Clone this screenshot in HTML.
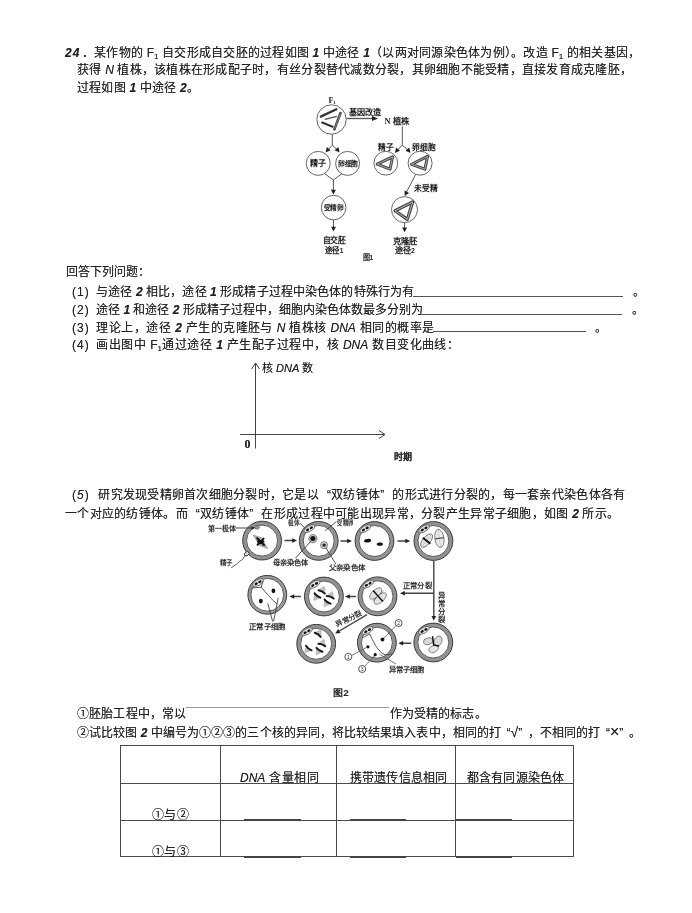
<!DOCTYPE html>
<html lang="zh-CN">
<head>
<meta charset="utf-8">
<title>24</title>
<style>
html,body{margin:0;padding:0;background:#fff;}
body{width:692px;height:913px;position:relative;overflow:hidden;font-family:"Liberation Sans",sans-serif;color:#222;}
.l,.s{filter:blur(0.3px);}
.l{position:absolute;white-space:nowrap;font-size:12px;line-height:16px;height:16px;font-weight:500;text-shadow:0 0 0.6px rgba(0,0,0,.55);text-align:justify;text-align-last:justify;letter-spacing:0;}
.l i{font-style:italic;}
.l b{font-weight:700;font-style:italic;}
.l .ql{display:inline-block;width:1em;text-align:right;text-align-last:right;}
.l .qr{display:inline-block;width:1em;text-align:left;text-align-last:left;}
.l .n{display:inline-block;width:24px;text-align:left;text-align-last:left;letter-spacing:1px;}
.l sub{font-size:8px;vertical-align:-2px;line-height:0;}
.u{position:absolute;height:0;border-top:1px solid #555;}
.s{position:absolute;white-space:nowrap;font-size:12px;line-height:16px;font-weight:500;text-shadow:0 0 0.6px rgba(0,0,0,.55);}
svg{position:absolute;left:0;top:0;}
</style>
</head>
<body>
<!-- paragraph 1 -->
<div class="l" style="left:65px;top:44.5px;width:575px"><i style="letter-spacing:1px;font-weight:700">24</i><span style="display:inline-block;width:13.5px;text-align:left;text-align-last:left;padding-left:3px;box-sizing:border-box;font-weight:700">.</span>某作物的 F<sub>1</sub> 自交形成自交胚的过程如图 <b>1</b> 中途径 <b>1</b>（以两对同源染色体为例）。改造 F<sub>1</sub> 的相关基因，</div>
<div class="l" style="left:77px;top:62px;width:555px">获得 <i>N</i> 植株，该植株在形成配子时，有丝分裂替代减数分裂，其卵细胞不能受精，直接发育成克隆胚，</div>
<div class="l" style="left:77px;top:80px;width:122px">过程如图 <b>1</b> 中途径 <b>2</b>。</div>

<!-- questions -->
<div class="l" style="left:65.5px;top:264px;width:77px">回答下列问题：</div>
<div class="l" style="left:72px;top:284px;width:342px"><span class="n">(1)</span>与途径 <b>2</b> 相比，途径 <b>1</b> 形成精子过程中染色体的特殊行为有</div>
<div class="l" style="left:72px;top:302px;width:351px"><span class="n">(2)</span>途径 <b>1</b> 和途径 <b>2</b> 形成精子过程中，细胞内染色体数最多分别为</div>
<div class="l" style="left:72px;top:319.5px;width:362px"><span class="n">(3)</span>理论上，途径 <b>2</b> 产生的克隆胚与 <i>N</i> 植株核 <i>DNA</i> 相同的概率是</div>
<div class="l" style="left:72px;top:336.5px;width:387px"><span class="n">(4)</span>画出图中 F<sub>1</sub>通过途径 <b>1</b> 产生配子过程中，核 <i>DNA</i> 数目变化曲线：</div>
<div class="u" style="left:413px;top:296px;width:210px"></div>
<div class="u" style="left:421px;top:314px;width:201px"></div>
<div class="u" style="left:433px;top:331px;width:153px"></div>
<div class="s" style="left:633px;top:284px">。</div>
<div class="s" style="left:632px;top:302px">。</div>
<div class="s" style="left:595px;top:319.5px">。</div>

<!-- axes -->
<svg width="692" height="913" viewBox="0 0 692 913" style="pointer-events:none">
<g fill="none" stroke="#444" stroke-width="1">
<path d="M255.5 363.5V448.5M240 434.5H384.5"/>
<path d="M251.5 369l4-6 4 6M379 430.5l6 4-6 4"/>
</g>
</svg>
<div class="s" style="left:262px;top:360px;font-size:11px">核 <i>DNA</i> 数</div>
<div class="s" style="left:244.5px;top:435.5px;font-family:'Liberation Serif',serif;font-weight:700;font-size:12px">0</div>
<div class="s" style="left:393.5px;top:448.5px;font-size:9px;font-weight:700">时期</div>

<!-- paragraph 5 -->
<div class="l" style="left:72px;top:487px;width:553px"><span class="n" style="width:26px">(<i>5</i>)</span>研究发现受精卵首次细胞分裂时，它是以<span class="ql">“</span>双纺锤体<span class="qr">”</span>的形式进行分裂的，每一套亲代染色体各有</div>
<div class="l" style="left:65px;top:505.5px;width:554px">一个对应的纺锤体。而<span class="ql">“</span>双纺锤体<span class="qr">”</span>在形成过程中可能出现异常，分裂产生异常子细胞，如图 <b>2</b> 所示。</div>

<!-- bottom text -->
<div class="l" style="left:77px;top:705.5px;width:109px">①胚胎工程中，常以</div>
<div class="u" style="left:186px;top:707px;width:203px;border-top-color:#999"></div>
<div class="l" style="left:389.5px;top:705.5px;width:97px">作为受精的标志。</div>
<div class="l" style="left:77px;top:724.5px;width:564px">②试比较图 <b>2</b> 中编号为①②③的三个核的异同，将比较结果填入表中，相同的打<span class="ql" style="width:.8em">“</span><span style="font-size:14px;line-height:0">√</span><span class="qr" style="width:.8em">”</span>，不相同的打<span class="ql" style="width:.8em">“</span><span style="font-size:16px;line-height:0">×</span><span class="qr" style="width:.8em">”</span>。</div>

<!-- table -->
<div id="tb" style="position:absolute;left:120px;top:745px;width:454px;height:112px;border:1px solid #4a4a4a;box-sizing:border-box"></div>
<div style="position:absolute;left:220px;top:745px;width:1px;height:112px;background:#4a4a4a"></div>
<div style="position:absolute;left:336px;top:745px;width:1px;height:112px;background:#4a4a4a"></div>
<div style="position:absolute;left:455px;top:745px;width:1px;height:112px;background:#4a4a4a"></div>
<div style="position:absolute;left:120px;top:782.5px;width:454px;height:1px;background:#4a4a4a"></div>
<div style="position:absolute;left:120px;top:819.5px;width:454px;height:1px;background:#4a4a4a"></div>
<div class="l" style="left:240px;top:769.5px;width:79px"><i>DNA</i> 含量相同</div>
<div class="l" style="left:350px;top:769.5px;width:97px">携带遗传信息相同</div>
<div class="l" style="left:467px;top:769.5px;width:97px">都含有同源染色体</div>
<div class="l" style="left:151.5px;top:807px;width:37px">①与②</div>
<div class="l" style="left:151.5px;top:844px;width:37px">①与③</div>
<div style="position:absolute;left:244px;top:819px;width:57px;height:2px;background:#444"></div>
<div style="position:absolute;left:350px;top:819px;width:56px;height:2px;background:#444"></div>
<div style="position:absolute;left:456px;top:819px;width:56px;height:2px;background:#444"></div>
<div style="position:absolute;left:244px;top:856px;width:57px;height:2px;background:#444"></div>
<div style="position:absolute;left:350px;top:856px;width:56px;height:2px;background:#444"></div>
<div style="position:absolute;left:456px;top:856px;width:56px;height:2px;background:#444"></div>

<!-- figure 1 -->
<svg width="692" height="913" viewBox="0 0 692 913" style="pointer-events:none;filter:blur(0.35px)" font-family="'Liberation Sans',sans-serif">
<defs>
<path id="ah" d="M0 0L-2.5 -4.8L2.5 -4.8Z"/>
</defs>
<g fill="#fff" stroke="#666" stroke-width="1">
<circle cx="331.5" cy="119.5" r="14.7"/>
<circle cx="318.2" cy="163.4" r="12"/>
<circle cx="347.6" cy="163.4" r="12"/>
<circle cx="333.6" cy="207.6" r="12.3"/>
<circle cx="385.8" cy="163.2" r="11.9"/>
<circle cx="420.1" cy="163.2" r="12"/>
<circle cx="404.5" cy="209.6" r="13"/>
</g>
<g fill="none" stroke="#555" stroke-width="1">
<path d="M346.5 118.5H374" stroke-width="1.3"/>
<path d="M332.3 134.3V145.2M332.3 145.2L327.2 150.6M332.3 145.2L338.1 150.6"/>
<path d="M324.5 173.6L333.4 180L342 173.6M333.4 180V191"/>
<path d="M333.5 220V228"/>
<path d="M402.3 126.5V145.2M402.3 145.2L396.4 151.2M402.3 145.2L409 151.2"/>
<path d="M415.6 174.5L406 193"/>
<path d="M404.6 222.7V229"/>
</g>
<g fill="#222" stroke="none">
<path d="M378 118.5L372 115.9V121.1Z"/>
<use href="#ah" transform="translate(325.6,152.4) rotate(40)"/>
<use href="#ah" transform="translate(339.6,152.4) rotate(-40)"/>
<use href="#ah" transform="translate(333.4,194.5)"/>
<use href="#ah" transform="translate(333.5,231.5)"/>
<use href="#ah" transform="translate(394.9,152.9) rotate(40)"/>
<use href="#ah" transform="translate(410.5,152.9) rotate(-40)"/>
<use href="#ah" transform="translate(404.6,196) rotate(28)"/>
<use href="#ah" transform="translate(404.6,232.3)"/>
</g>
<!-- chromosomes F1 -->
<g fill="none" stroke-linecap="round">
<path d="M320.8 116.6L336.4 109.3" stroke="#333" stroke-width="2.3"/>
<path d="M325.4 119.2L336.4 116.4" stroke="#666" stroke-width="1.5"/>
<path d="M322.2 122.6L332.6 126.7" stroke="#333" stroke-width="2.2"/>
<path d="M340.5 113L334.4 129.4" stroke="#444" stroke-width="2.6"/>
<path d="M340.3 114L335 128" stroke="#888" stroke-width="0.9"/>
</g>
<!-- triangles -->
<g fill="none" stroke-linejoin="round">
<path id="t1" d="M377.2 164.2L392.6 156.9L390 169.2Z" stroke="#444" stroke-width="3"/>
<path d="M377.2 164.2L392.6 156.9L390 169.2Z" stroke="#c4c4c4" stroke-width="0.8"/>
<path d="M411.5 164.3L427.5 156.4L424.9 169.2Z" stroke="#444" stroke-width="3"/>
<path d="M411.5 164.3L427.5 156.4L424.9 169.2Z" stroke="#c4c4c4" stroke-width="0.8"/>
<path d="M395 210.8L412.7 202L407.3 219.4Z" stroke="#444" stroke-width="3.2"/>
<path d="M395 210.8L412.7 202L407.3 219.4Z" stroke="#c4c4c4" stroke-width="0.9"/>
</g>
<g fill="#222" font-size="8" font-weight="700">
<text x="328.4" y="102.6" font-family="'Liberation Serif',serif" font-weight="700" font-size="8">F<tspan font-size="5" dy="1">1</tspan></text>
<text x="348.6" y="115" textLength="32.5" lengthAdjust="spacingAndGlyphs">基因改造</text>
<text x="384.5" y="124" textLength="25" lengthAdjust="spacingAndGlyphs"><tspan font-family="'Liberation Serif',serif">N</tspan> 植株</text>
<text x="309.8" y="166.4" textLength="17" lengthAdjust="spacingAndGlyphs" font-size="8.5">精子</text>
<text x="337.8" y="166" textLength="20.5" lengthAdjust="spacingAndGlyphs" font-size="7">卵细胞</text>
<text x="378" y="149.6" textLength="15.5" lengthAdjust="spacingAndGlyphs">精子</text>
<text x="412.3" y="149.6" textLength="23.3" lengthAdjust="spacingAndGlyphs">卵细胞</text>
<text x="323.6" y="210" textLength="20" lengthAdjust="spacingAndGlyphs" font-size="7">受精卵</text>
<text x="414.3" y="190.7" textLength="23.3" lengthAdjust="spacingAndGlyphs">未受精</text>
<text x="322.7" y="242.8" textLength="23.4" lengthAdjust="spacingAndGlyphs">自交胚</text>
<text x="324.7" y="252.8" textLength="18.8" lengthAdjust="spacingAndGlyphs">途径<tspan font-size="7">1</tspan></text>
<text x="392.7" y="243.8" textLength="25" lengthAdjust="spacingAndGlyphs">克隆胚</text>
<text x="394.7" y="253.4" textLength="20.2" lengthAdjust="spacingAndGlyphs">途径<tspan font-size="7">2</tspan></text>
<text x="362.7" y="260.3" textLength="10.5" lengthAdjust="spacingAndGlyphs" font-size="7.5">图1</text>
</g>
</svg>

<!-- figure 2 -->
<svg width="692" height="913" viewBox="0 0 692 913" style="pointer-events:none;filter:blur(0.35px)" font-family="'Liberation Sans',sans-serif">
<defs>
<g id="ring">
<circle r="17.5" fill="#fff" stroke="#929292" stroke-width="3.8"/>
<circle r="19.4" fill="none" stroke="#3a3a3a" stroke-width="1"/>
<circle r="15.5" fill="none" stroke="#4a4a4a" stroke-width="0.9"/>
</g>
<g id="ringb">
<circle r="17.9" fill="#fff" stroke="#9a9a9a" stroke-width="3"/>
<circle r="19.4" fill="none" stroke="#3a3a3a" stroke-width="1"/>
<circle r="16.4" fill="none" stroke="#4a4a4a" stroke-width="0.9"/>
</g>
<g id="pb">
<ellipse cx="-9.3" cy="-12.2" rx="6" ry="2.8" transform="rotate(-31 -9.3 -12.2)" fill="#e0e0e0" stroke="#555" stroke-width="0.7"/>
<ellipse cx="-11.1" cy="-11" rx="1.7" ry="1.2" transform="rotate(-31 -11.1 -11)" fill="#111"/>
<ellipse cx="-7.4" cy="-13.1" rx="1.7" ry="1.2" transform="rotate(-31 -7.4 -13.1)" fill="#111"/>
</g>
<g id="cell">
<use href="#ring"/>
<ellipse cx="-9.3" cy="-12.2" rx="6" ry="2.8" transform="rotate(-31 -9.3 -12.2)" fill="#e0e0e0" stroke="#555" stroke-width="0.7"/>
<ellipse cx="-11.1" cy="-11" rx="1.7" ry="1.2" transform="rotate(-31 -11.1 -11)" fill="#111"/>
<ellipse cx="-7.4" cy="-13.1" rx="1.7" ry="1.2" transform="rotate(-31 -7.4 -13.1)" fill="#111"/>
</g>
<path id="ah2" d="M0 0L-2.3 -4.8L2.3 -4.8Z"/>
<g id="sp"><!-- spindle ellipse -->
<ellipse rx="7.6" ry="3.6" fill="#e2e2e2" stroke="#666" stroke-width="0.7"/>
</g>
<g id="hs"><!-- half spindle -->
<path d="M-3.4 0.4L3.4 0.4L0.6 5.6L-0.6 5.6Z" fill="#c2c2c2" stroke="#999" stroke-width="0.4"/>
<path d="M-3.6 0Q0 1.2 3.6 0" stroke="#1a1a1a" stroke-width="2" fill="none" stroke-linecap="round"/>
</g>
</defs>
<!-- cells -->
<use href="#ring" x="262.1" y="540.6"/>
<use href="#cell" x="318.7" y="540.9"/>
<use href="#cell" x="374.5" y="541"/>
<use href="#cell" x="433.4" y="541"/>
<use href="#ringb" x="267.3" y="594.8"/><use href="#pb" x="267.3" y="594.8"/>
<use href="#cell" x="323.9" y="596.5"/>
<use href="#cell" x="377.5" y="596.3"/>
<use href="#cell" x="316.2" y="643.8"/>
<use href="#cell" x="376.9" y="642.7"/>
<use href="#cell" x="433.3" y="642.5"/>
<!-- arrows -->
<g fill="none" stroke="#444" stroke-width="1.4">
<path d="M284.5 540.5H293.5M340.5 541H348.5M397.5 541H406.5"/>
<path d="M433.8 561V617M433.8 593.2H403.5"/>
<path d="M301 596.5H293M356 596.5H348.5M411.2 643.3H402"/>
<path d="M367 614.6L338.5 631.5" stroke-width="1.4"/>
</g>
<g fill="#222">
<use href="#ah2" transform="translate(297,540.5) rotate(-90)"/>
<use href="#ah2" transform="translate(352,541) rotate(-90)"/>
<use href="#ah2" transform="translate(410.2,541) rotate(-90)"/>
<use href="#ah2" transform="translate(433.8,620.8)"/>
<use href="#ah2" transform="translate(400,593.2) rotate(90)"/>
<use href="#ah2" transform="translate(289.4,596.5) rotate(90)"/>
<use href="#ah2" transform="translate(345,596.5) rotate(90)"/>
<use href="#ah2" transform="translate(398.3,643.3) rotate(90)"/>
<use href="#ah2" transform="translate(335.2,633.5) rotate(59)"/>
</g>
<!-- cell 1 contents -->
<g>
<ellipse cx="257" cy="527.4" rx="2.3" ry="1.8" fill="#999" stroke="#555" stroke-width="0.6"/>
<path d="M235.5 528H252.5" stroke="#444" stroke-width="1" fill="none"/>
<use href="#ah2" fill="#222" transform="translate(255.2,528) rotate(-90) scale(0.8)"/>
<path d="M253.2 535L261.4 537.6L267.6 548.6L259.6 545.6Z" fill="#b0b0b0" stroke="#777" stroke-width="0.5"/>
<path d="M257.2 538.2L264 545M263.6 538.6L257.6 544.8M258 541.6H263.4" stroke="#111" stroke-width="2" fill="none" stroke-linecap="round"/>
<ellipse cx="246.8" cy="553.8" rx="2.6" ry="1.9" transform="rotate(-40 246.8 553.8)" fill="#ddd" stroke="#333" stroke-width="0.9"/>
<path d="M245.4 555.2C243.5 557 243.8 559 241.4 560.2C239 561.4 238.6 563 236.4 564.4C234.4 565.6 233 566.4 231.2 567.8" stroke="#444" stroke-width="0.9" fill="none"/>
</g>
<!-- cell 2 contents -->
<g>
<circle cx="312.9" cy="538.6" r="4.2" fill="#bbb" stroke="#555" stroke-width="0.6"/>
<circle cx="312.9" cy="538.6" r="2.5" fill="#111"/>
<circle cx="324.1" cy="545.1" r="3.6" fill="#c8c8c8" stroke="#555" stroke-width="0.6"/>
<circle cx="324.1" cy="545.1" r="1.7" fill="#222"/>
<path d="M299.8 523.2L305.4 528.6M336.4 521.5L325.2 530.8M311 541L295.4 558.2M325.8 547.6L335.8 564" stroke="#444" stroke-width="0.9" fill="none"/>
</g>
<!-- cell 3 contents -->
<ellipse cx="367.6" cy="540.7" rx="3.6" ry="1.8" transform="rotate(-8 367.6 540.7)" fill="#111"/>
<ellipse cx="379.8" cy="544.2" rx="3.1" ry="1.6" transform="rotate(-5 379.8 544.2)" fill="#111"/>
<!-- cell 4 contents -->
<g>
<ellipse cx="426.6" cy="540.6" rx="8.2" ry="3.8" transform="rotate(-50 426.6 540.6)" fill="#e4e4e4" stroke="#666" stroke-width="0.8"/>
<path d="M421.6 547L431.6 534.4" stroke="#aaa" stroke-width="0.5" fill="none"/>
<path d="M422.9 537.8L430.3 543.7" stroke="#111" stroke-width="1.9" fill="none"/>
<ellipse cx="439.4" cy="538.4" rx="4.5" ry="9.2" transform="rotate(-8 439.4 538.4)" fill="#ececec" stroke="#666" stroke-width="0.8"/>
<path d="M438.2 529.6L440.6 547.2" stroke="#aaa" stroke-width="0.5" fill="none"/>
<path d="M435 538.9L443.9 537.6" stroke="#555" stroke-width="1.1" fill="none"/>
</g>
<!-- cell 5 contents -->
<g>
<path d="M251.8 588L261.2 587.2L263.2 581M261.2 587.2C266 592.4 271 599 277.2 604.2" stroke="#444" stroke-width="0.9" fill="none"/>
<ellipse cx="273.4" cy="590.8" rx="1.9" ry="2.4" fill="#111"/>
<ellipse cx="260.8" cy="601.1" rx="1.9" ry="2.4" fill="#111"/>
<path d="M272.6 621.4L267.8 603.4M273.6 621.4L278.2 597.8" stroke="#444" stroke-width="0.9" fill="none"/>
</g>
<!-- cell 6 contents -->
<g>
<use href="#hs" transform="translate(321.7,591.9) rotate(208)"/>
<use href="#hs" transform="translate(317.5,595.5) rotate(36)"/>
<use href="#hs" transform="translate(330.3,597.3) rotate(200)"/>
<use href="#hs" transform="translate(327.6,601.6) rotate(34)"/>
</g>
<!-- cell 8 contents -->
<g transform="translate(378,596) rotate(-42)">
<use href="#sp" y="-3.4"/>
<use href="#sp" y="3.4"/>
<path d="M0 -7.4V7.4" stroke="#111" stroke-width="1.5" fill="none"/>
<path d="M-7.4 0H7.4" stroke="#555" stroke-width="0.7" fill="none"/>
</g>
<!-- cell 7 contents -->
<g>
<use href="#hs" transform="translate(317.7,634.8) rotate(215)"/>
<use href="#hs" transform="translate(321.8,644.9) rotate(200)"/>
<use href="#hs" transform="translate(308.8,648) rotate(40)"/>
<use href="#hs" transform="translate(319.5,649.8) rotate(33)"/>
</g>
<!-- cell 10 contents -->
<g>
<path d="M362.4 637.8L369.8 634C373 641 376 648 382.4 653.6C386 655.4 389.4 655 392.6 653.4" stroke="#444" stroke-width="0.9" fill="none"/>
<circle cx="382.5" cy="639.5" r="1.9" fill="#111"/>
<circle cx="367.9" cy="646.8" r="1.6" fill="#111"/>
<circle cx="375.2" cy="654.7" r="1.6" fill="#111"/>
<path d="M396 625.6L383.8 638.2M351.8 655.4L366.5 647.4M364.6 666.4L374.3 656M379.5 654.2L396 664" stroke="#555" stroke-width="0.8" fill="none"/>
<g fill="#fff" stroke="#444" stroke-width="0.9">
<circle cx="398.6" cy="623" r="3.5"/><circle cx="348.3" cy="656.8" r="3.5"/><circle cx="362.2" cy="669" r="3.5"/>
</g>
</g>
<!-- cell 9 contents -->
<g>
<ellipse cx="428.2" cy="641.2" rx="4.8" ry="3.3" transform="rotate(-15 428.2 641.2)" fill="#d8d8d8" stroke="#666" stroke-width="0.7"/>
<ellipse cx="438" cy="641.2" rx="3.8" ry="5.4" transform="rotate(22 438 641.2)" fill="#d8d8d8" stroke="#666" stroke-width="0.7"/>
<ellipse cx="433.6" cy="649" rx="5" ry="3.3" transform="rotate(-25 433.6 649)" fill="#e4e4e4" stroke="#666" stroke-width="0.7"/>
<path d="M432.6 636.2L433.6 645L439 646" stroke="#111" stroke-width="1.4" fill="none"/>
</g>
<!-- labels -->
<g fill="#333" font-size="7.2" font-weight="700">
<text x="208" y="530.6" textLength="27.4" lengthAdjust="spacingAndGlyphs">第一极体</text>
<text x="220.2" y="564.8" textLength="12.6" lengthAdjust="spacingAndGlyphs">精子</text>
<text x="287.7" y="525" textLength="12" lengthAdjust="spacingAndGlyphs" font-size="6.6">极体</text>
<text x="337" y="525.4" textLength="17" lengthAdjust="spacingAndGlyphs" font-size="6.6">受精卵</text>
<text x="272.9" y="564.6" textLength="35.3" lengthAdjust="spacingAndGlyphs">母亲染色体</text>
<text x="328.8" y="570.4" textLength="36.5" lengthAdjust="spacingAndGlyphs">父亲染色体</text>
<text x="249.2" y="629" textLength="36.4" lengthAdjust="spacingAndGlyphs">正常子细胞</text>
<text x="403.1" y="588" textLength="28.6" lengthAdjust="spacingAndGlyphs">正常分裂</text>
<text x="437.7" y="598.2" font-size="7.4">异</text><text x="437.7" y="606" font-size="7.4">常</text><text x="437.7" y="613.8" font-size="7.4">分</text><text x="437.7" y="621.6" font-size="7.4">裂</text>
<text transform="translate(337.4,627.4) rotate(-27)" x="0" y="0" textLength="27.5" lengthAdjust="spacingAndGlyphs">异常分裂</text>
<text x="388.9" y="671.6" textLength="35.5" lengthAdjust="spacingAndGlyphs">异常子细胞</text>
<text x="398.6" y="624.9" font-size="5" text-anchor="middle" font-weight="400">2</text>
<text x="348.3" y="658.7" font-size="5" text-anchor="middle" font-weight="400">1</text>
<text x="362.2" y="670.9" font-size="5" text-anchor="middle" font-weight="400">3</text>
<text x="332.8" y="696" textLength="16" lengthAdjust="spacingAndGlyphs" font-size="9.5" font-weight="700" fill="#222">图2</text>
</g>
</svg>

</body>
</html>
